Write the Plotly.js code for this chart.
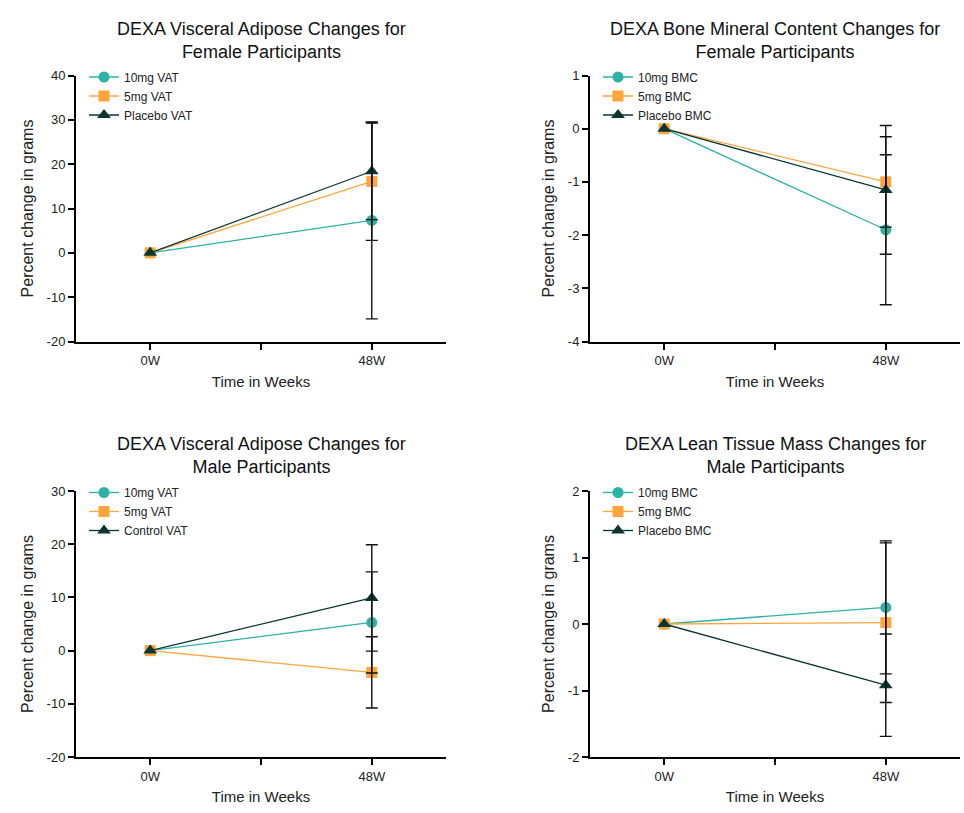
<!DOCTYPE html>
<html><head><meta charset="utf-8">
<script src="https://cdn.plot.ly/plotly-3.0.1.min.js"></script>
<style>body{margin:0;background:#fff;} #chart{width:964px;height:813px;}</style>
</head><body><div id="chart"></div>
<script>
// ---- data ----
const weeks = [0, 1];
const weekTickVals = [0, 0.5, 1];
const weekTickText = ['0W', '', '48W'];

// Panel 1: DEXA Visceral Adipose, Female
const fVAT_names = ['10mg VAT', '5mg VAT', 'Placebo VAT'];
const fVAT_10mg = [0, 7.3];   const fVAT_10mg_sd = [NaN, 22.2];
const fVAT_5mg  = [0, 16.1];  const fVAT_5mg_sd  = [NaN, 13.3];
const fVAT_plc  = [0, 18.4];  const fVAT_plc_sd  = [NaN, 10.9];

// Panel 2: DEXA Bone Mineral Content, Female
const fBMC_names = ['10mg BMC', '5mg BMC', 'Placebo BMC'];
const fBMC_10mg = [0, -1.9];  const fBMC_10mg_sd = [NaN, 1.41];
const fBMC_5mg  = [0, -1.0];  const fBMC_5mg_sd  = [NaN, 0.85];
const fBMC_plc  = [0, -1.15]; const fBMC_plc_sd  = [NaN, 1.21];

// Panel 3: DEXA Visceral Adipose, Male
const mVAT_names = ['10mg VAT', '5mg VAT', 'Control VAT'];
const mVAT_10mg = [0, 5.3];   const mVAT_10mg_sd = [NaN, 9.5];
const mVAT_5mg  = [0, -4.1];  const mVAT_5mg_sd  = [NaN, 6.7];
const mVAT_ctl  = [0, 9.9];   const mVAT_ctl_sd  = [NaN, 10.0];

// Panel 4: DEXA Lean Tissue Mass, Male
const mLTM_names = ['10mg BMC', '5mg BMC', 'Placebo BMC'];
const mLTM_10mg = [0, 0.25];  const mLTM_10mg_sd = [NaN, 1.0];
const mLTM_5mg  = [0, 0.02];  const mLTM_5mg_sd  = [NaN, 1.2];
const mLTM_plc  = [0, -0.92]; const mLTM_plc_sd  = [NaN, 0.77];

const titles = [
  'DEXA Visceral Adipose Changes for<br>Female Participants',
  'DEXA Bone Mineral Content Changes for<br>Female Participants',
  'DEXA Visceral Adipose Changes for<br>Male Participants',
  'DEXA Lean Tissue Mass Changes for<br>Male Participants'
];
const yTicks = [
  [-20, -10, 0, 10, 20, 30, 40],
  [-4, -3, -2, -1, 0, 1],
  [-20, -10, 0, 10, 20, 30],
  [-2, -1, 0, 1, 2]
];

// ---- styles ----
const colors = ['#2bb3a3', '#ffa53c', '#0b3531'];
const symbols = ['circle', 'square', 'triangle-up'];
const FONT = 'Liberation Sans, Arial, sans-serif';

const panels = [
  {names: fVAT_names, vals: [fVAT_10mg, fVAT_5mg, fVAT_plc], sds: [fVAT_10mg_sd, fVAT_5mg_sd, fVAT_plc_sd]},
  {names: fBMC_names, vals: [fBMC_10mg, fBMC_5mg, fBMC_plc], sds: [fBMC_10mg_sd, fBMC_5mg_sd, fBMC_plc_sd]},
  {names: mVAT_names, vals: [mVAT_10mg, mVAT_5mg, mVAT_ctl], sds: [mVAT_10mg_sd, mVAT_5mg_sd, mVAT_ctl_sd]},
  {names: mLTM_names, vals: [mLTM_10mg, mLTM_5mg, mLTM_plc], sds: [mLTM_10mg_sd, mLTM_5mg_sd, mLTM_plc_sd]}
];

// pixel boxes of plot areas [left, right, top, bottom]
const W = 964, H = 813;
const boxes = [
  [76, 446, 75.5, 341.5],
  [590, 960, 75.5, 341.5],
  [76, 446, 491, 757],
  [590, 960, 491, 757]
];

const data = [];
const layout = {
  width: W, height: H,
  margin: {l: 0, r: 0, t: 0, b: 0},
  paper_bgcolor: '#fff', plot_bgcolor: '#fff',
  font: {family: FONT, color: '#222', size: 13},
  showlegend: true,
  annotations: []
};

panels.forEach((p, i) => {
  const n = i + 1;
  const xa = 'x' + (n === 1 ? '' : n), ya = 'y' + (n === 1 ? '' : n);
  const xk = 'xaxis' + (n === 1 ? '' : n), yk = 'yaxis' + (n === 1 ? '' : n);
  const lg = 'legend' + (n === 1 ? '' : n);
  const b = boxes[i];
  const tv = yTicks[i];
  p.vals.forEach((v, s) => {
    data.push({
      type: 'scatter', mode: 'lines+markers', x: weeks, y: v, name: p.names[s],
      xaxis: xa, yaxis: ya, legend: lg, cliponaxis: false,
      line: {color: colors[s], width: 1.3},
      marker: {color: colors[s], symbol: symbols[s], size: symbols[s] === 'triangle-up' ? 12 : 11}
    });
  });
  p.vals.forEach((v, s) => {
    data.push({
      type: 'scatter', mode: 'markers', x: weeks, y: v, showlegend: false, hoverinfo: 'skip',
      xaxis: xa, yaxis: ya, cliponaxis: false,
      marker: {size: 1, color: 'rgba(0,0,0,0)'},
      error_y: {type: 'data', array: p.sds[s], visible: true, color: '#111', thickness: 1.4, width: 6}
    });
  });
  layout[xk] = {
    domain: [b[0] / W, b[1] / W], anchor: ya,
    range: [-0.335, 1.335], tickvals: weekTickVals, ticktext: weekTickText,
    showgrid: false, zeroline: false, showline: true, linecolor: '#000', linewidth: 2,
    ticks: 'outside', ticklen: 6, tickwidth: 2, tickcolor: '#000',
    tickfont: {size: 13, color: '#222', family: FONT},
    title: {text: 'Time in Weeks', font: {size: 15, color: '#222', family: FONT}, standoff: 9}
  };
  layout[yk] = {
    domain: [1 - b[3] / H, 1 - b[2] / H], anchor: xa,
    range: [tv[0], tv[tv.length - 1]], tickvals: tv, ticktext: tv.map(String),
    showgrid: false, zeroline: false, showline: true, linecolor: '#000', linewidth: 2,
    ticks: 'outside', ticklen: 6, tickwidth: 2, tickcolor: '#000',
    tickfont: {size: 13, color: '#222', family: FONT},
    title: {text: 'Percent change in grams', font: {size: 16, color: '#222', family: FONT}, standoff: 9}
  };
  layout[lg] = {
    x: (b[0] + 8) / W, y: 1 - (b[2] - 13) / H, xanchor: 'left', yanchor: 'top',
    bgcolor: 'rgba(0,0,0,0)', font: {size: 12, color: '#222', family: FONT},
    itemwidth: 30, tracegroupgap: 0
  };
  layout.annotations.push({
    text: titles[i], xref: 'paper', yref: 'paper',
    x: ((b[0] + b[1]) / 2) / W, y: 1 - (b[2] - 35) / H,
    xanchor: 'center', yanchor: 'middle', showarrow: false,
    font: {size: 18, color: '#111', family: FONT}
  });
});

Plotly.newPlot('chart', data, layout, {displayModeBar: false, staticPlot: true});
</script>
</body></html>
